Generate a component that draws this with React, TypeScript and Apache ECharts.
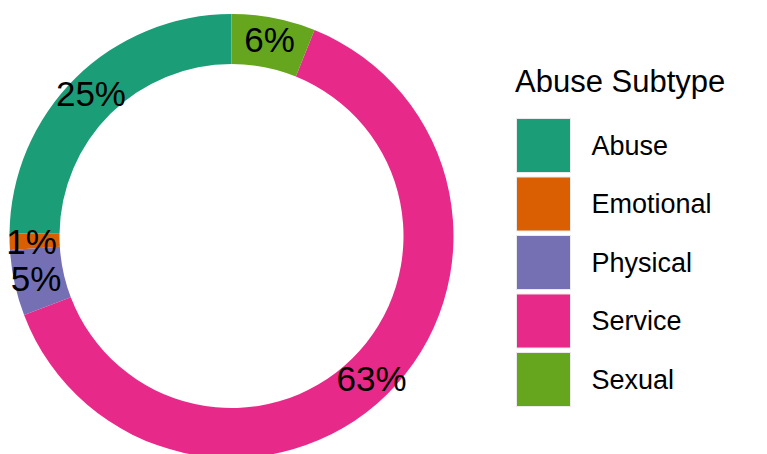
import React, { useEffect, useRef } from "react";
import * as echarts from "echarts";

const categories = ["Abuse", "Emotional", "Physical", "Service", "Sexual"];
const shares = [24.8, 1.2, 4.8, 63.1, 6.1];
const colors = ["#1B9E77", "#D95F02", "#7570B3", "#E7298A", "#66A61E"];
const legendTitle = "Abuse Subtype";

export default function App() {
  const ref = useRef<HTMLDivElement>(null);
  useEffect(() => {
    if (!ref.current) return;
    const chart = echarts.init(ref.current, undefined, { renderer: "svg" });
    const font = "'Liberation Sans', Arial, sans-serif";
    chart.setOption({
      animation: false,
      backgroundColor: "#ffffff",
      color: colors,
      title: {
        text: legendTitle,
        left: 515,
        top: 66,
        padding: 0,
        textStyle: { fontFamily: font, fontSize: 31, fontWeight: "normal", color: "#000" },
      },
      legend: {
        orient: "vertical",
        left: 516,
        top: 118,
        padding: 0,
        itemWidth: 54,
        itemHeight: 54,
        itemGap: 3.5,
        icon: "rect",
        data: categories,
        selectedMode: false,
        itemStyle: { borderColor: "#ebebeb", borderWidth: 1 },
        textStyle: { fontFamily: font, fontSize: 27, color: "#000", padding: [0, 0, 0, 16] },
      },
      series: [
        {
          type: "pie",
          center: [231.5, 236],
          radius: [172, 222],
          startAngle: 90,
          clockwise: false,
          avoidLabelOverlap: false,
          label: {
            show: true,
            position: "inside",
            fontFamily: font,
            fontSize: 35,
            color: "#000",
            formatter: (p: any) => Math.round(p.value) + "%",
          },
          labelLine: { show: false },
          itemStyle: { borderWidth: 0 },
          emphasis: { disabled: true },
          data: categories.map((c, i) => ({ name: c, value: shares[i] })),
        },
      ],
    });
    return () => chart.dispose();
  }, []);
  return (
    <div
      ref={ref}
      style={{ position: "fixed", left: 0, top: 0, width: 767, height: 454 }}
    />
  );
}
